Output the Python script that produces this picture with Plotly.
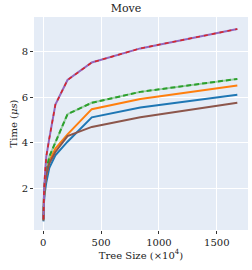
import plotly.graph_objects as go

tree_size = [1.64, 3.28, 6.55, 13.1, 26.2, 52.4, 104.9, 209.7, 419.4, 838.9, 1677.7]

blue = [0.55, 1.0, 1.4, 1.8, 2.25, 2.9, 3.45, 4.05, 5.12, 5.55, 6.11]
orange = [0.6, 1.1, 1.6, 2.1, 2.6, 3.2, 3.75, 4.37, 5.48, 5.93, 6.52]
green = [0.65, 1.2, 1.7, 2.3, 2.8, 3.4, 4.0, 5.26, 5.76, 6.24, 6.81]
purple = [0.65, 1.3, 1.8, 2.5, 3.4, 4.2, 5.68, 6.76, 7.53, 8.15, 9.0]
red = purple
brown = [0.6, 1.1, 1.6, 2.1, 2.6, 3.1, 3.6, 4.3, 4.7, 5.12, 5.76]

fig = go.Figure()
W = 2
fig.add_trace(go.Scatter(x=tree_size, y=blue, mode="lines", line=dict(color="#1f77b4", width=W)))
fig.add_trace(go.Scatter(x=tree_size, y=orange, mode="lines", line=dict(color="#ff7f0e", width=W)))
fig.add_trace(go.Scatter(x=tree_size, y=green, mode="lines", line=dict(color="rgba(44,160,44,0.4)", width=W)))
fig.add_trace(go.Scatter(x=tree_size, y=green, mode="lines", line=dict(color="#2ca02c", width=W, dash="5px,3px")))
fig.add_trace(go.Scatter(x=tree_size, y=brown, mode="lines", line=dict(color="#8c564b", width=W)))
fig.add_trace(go.Scatter(x=tree_size, y=purple, mode="lines", line=dict(color="#9467bd", width=W)))
fig.add_trace(go.Scatter(x=tree_size, y=red, mode="lines", line=dict(color="#d62728", width=W * 0.8, dash="4px,4px")))

font = dict(family="DejaVu Serif", size=10, color="#222")
fig.update_layout(
    width=252, height=270,
    margin=dict(l=34, r=4, t=17, b=40),
    showlegend=False,
    paper_bgcolor="white",
    plot_bgcolor="#E5ECF6",
    font=font,
    title=dict(text="Move", x=0.5, xanchor="center", y=0.985, yanchor="top",
               font=dict(family="DejaVu Serif", size=11, color="#222")),
)
fig.update_xaxes(
    range=[-80, 1770], tickvals=[0, 500, 1000, 1500],
    showgrid=True, gridcolor="white", gridwidth=1.2, zeroline=False,
    ticks="outside", ticklen=3, tickcolor="#333",
    title=dict(text="Tree Size (×10<sup>4</sup>)", standoff=4, font=font),
)
fig.update_yaxes(
    range=[0.17, 9.53], tickvals=[2, 4, 6, 8],
    showgrid=True, gridcolor="white", gridwidth=1.2, zeroline=False,
    ticks="outside", ticklen=3, tickcolor="#333",
    title=dict(text="Time (<i>μs</i>)", standoff=2, font=font),
)
fig.write_html("out.html", config={"displayModeBar": False},
               post_script="document.body.style.margin='0';")
